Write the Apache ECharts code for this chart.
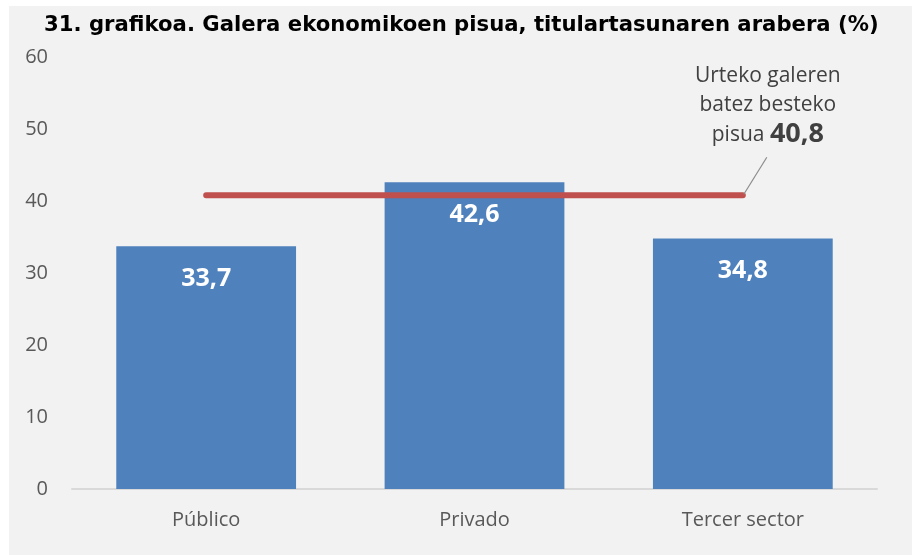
<!DOCTYPE html>
<html>
<head>
<meta charset="utf-8">
<script src="https://cdn.jsdelivr.net/npm/echarts@6/dist/echarts.min.js"></script>
<style>
  html, body { margin: 0; padding: 0; background: #fff; }
  #chart { width: 912px; height: 555px; }
</style>
</head>
<body>
<div id="chart"></div>
<script>
var categories = ['Público', 'Privado', 'Tercer sector'];
var values = [33.7, 42.6, 34.8];
var average = 40.8;
var averageLine = categories.map(function () { return average; });

function fmt(v) { return v.toFixed(1).replace('.', ','); }

var chart = echarts.init(document.getElementById('chart'));

var panel = {
    type: 'rect',
    z: -10,
    shape: { x: 9, y: 6, width: 903, height: 549 },
    style: { fill: '#f2f2f2' }
};

var option = {
    backgroundColor: '#fff',
    animation: false,
    graphic: [panel],
    title: {
        text: '31. grafikoa. Galera ekonomikoen pisua, titulartasunaren arabera (%)',
        left: 39,
        top: 10,
        textStyle: {
            fontFamily: 'DejaVu Sans',
            fontWeight: 'bold',
            fontSize: 21.2,
            color: '#000'
        }
    },
    grid: {
        left: 72,
        right: 35,
        top: 57,
        bottom: 66
    },
    xAxis: {
        type: 'category',
        data: categories,
        axisTick: { show: false },
        axisLine: { lineStyle: { color: '#d9d9d9', width: 2 } },
        axisLabel: {
            color: '#595959',
            fontSize: 20,
            fontFamily: 'Open Sans',
            margin: 21
        }
    },
    yAxis: {
        type: 'value',
        min: 0,
        max: 60,
        interval: 10,
        splitLine: { show: false },
        axisLine: { show: false },
        axisTick: { show: false },
        axisLabel: {
            color: '#595959',
            fontSize: 20,
            fontFamily: 'Open Sans',
            margin: 24
        }
    },
    series: [{
        name: 'Pisua',
        type: 'bar',
        data: values,
        barCategoryGap: '33%',
        itemStyle: { color: '#4f81bd' },
        label: {
            show: true,
            position: 'insideTop',
            distance: 20,
            color: '#fff',
            fontWeight: 'bold',
            fontSize: 25,
            fontFamily: 'Open Sans',
            formatter: function (p) { return fmt(p.value); }
        }
    }, {
        name: 'Batez bestekoa',
        type: 'line',
        data: averageLine,
        symbol: 'none',
        lineStyle: { color: '#c0504d', width: 6, cap: 'round' },
        z: 5
    }]
};

chart.setOption(option);

// annotation and leader line anchored to the end of the average line
var endPt = chart.convertToPixel({ seriesIndex: 1 }, [categories.length - 1, average]);
chart.setOption({
    graphic: [panel, {
        type: 'line',
        z: 10,
        shape: { x1: endPt[0] + 1, y1: endPt[1] - 1, x2: endPt[0] + 24, y2: endPt[1] - 38 },
        style: { stroke: '#8c8c8c', lineWidth: 1.2 }
    }, {
        type: 'text',
        z: 10,
        x: endPt[0] + 25,
        y: endPt[1] - 134,
        style: {
            text: 'Urteko galeren\nbatez besteko\npisua {b|' + fmt(average) + '}',
            align: 'center',
            verticalAlign: 'top',
            fontFamily: 'Open Sans',
            fontSize: 21,
            lineHeight: 29,
            fill: '#404040',
            rich: {
                b: { fontWeight: 'bold', fontSize: 27, fill: '#404040', fontFamily: 'Open Sans', lineHeight: 31 }
            }
        }
    }]
});
</script>
</body>
</html>
